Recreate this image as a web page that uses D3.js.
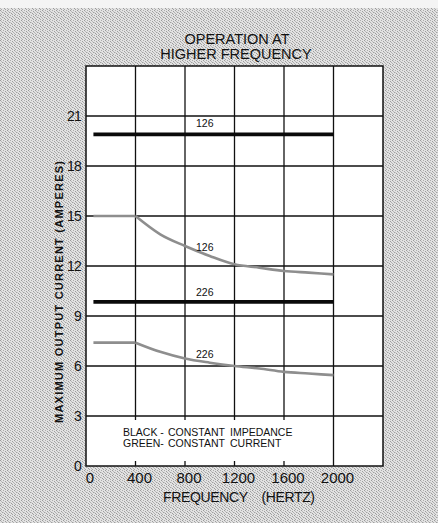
<!DOCTYPE html>
<html>
<head>
<meta charset="utf-8">
<script src="https://cdn.jsdelivr.net/npm/d3@7"></script>
<style>
  html, body { margin: 0; padding: 0; background: #fff; }
  svg { display: block; }
  text { font-family: "Liberation Sans", Arial, sans-serif; fill: #111; }
</style>
</head>
<body>
<svg id="chart" width="438" height="523"></svg>
<script>
// frequency points (Hz)
const freq = [60, 400, 600, 800, 1000, 1200, 1400, 1600, 1800, 2000];
// constant current curves (green)
const current126 = [15, 15, 13.9, 13.2, 12.6, 12.1, 11.9, 11.7, 11.6, 11.5];
const current226 = [7.4, 7.4, 6.85, 6.45, 6.2, 6.0, 5.85, 5.65, 5.55, 5.45];
// constant impedance lines (black)
const impFreq = [60, 2000];
const impedance126 = [19.9, 19.9];
const impedance226 = [9.85, 9.85];

const xTicks = [0, 400, 800, 1200, 1600, 2000];
const yTicks = [0, 3, 6, 9, 12, 15, 18, 21];

const svg = d3.select('#chart');
const W = 438, H = 523;
const plotLeft = 86, plotRight = 383, plotTop = 66, plotBottom = 466;

// halftone-ish paper background
const defs = svg.append('defs');
const pat = defs.append('pattern')
  .attr('id', 'halftone')
  .attr('width', 7).attr('height', 5)
  .attr('patternUnits', 'userSpaceOnUse');
pat.append('rect').attr('width', 7).attr('height', 5).attr('fill', '#e2e2e2');
const dots = [[0,0,'#999'],[3,0,'#aaa'],[5,1,'#9e9e9e'],[1,1,'#b8b8b8'],[2,2,'#a0a0a0'],
  [6,2,'#b0b0b0'],[4,3,'#999'],[0,3,'#b4b4b4'],[1,4,'#a6a6a6'],[5,4,'#a2a2a2'],[3,2,'#c4c4c4']];
pat.selectAll('rect.d').data(dots).enter().append('rect')
  .attr('x', d => d[0]).attr('y', d => d[1])
  .attr('width', 1).attr('height', 1).attr('fill', d => d[2]);

svg.append('rect').attr('width', W).attr('height', H).attr('fill', 'url(#halftone)');
svg.append('rect').attr('width', W).attr('height', 8).attr('fill', '#f4f4f4');

const x = d3.scaleLinear().domain([0, 2400]).range([plotLeft, plotRight]);
const y = d3.scaleLinear().domain([0, 24]).range([plotBottom, plotTop]);

// plot area
svg.append('rect')
  .attr('x', plotLeft).attr('y', plotTop)
  .attr('width', plotRight - plotLeft).attr('height', plotBottom - plotTop)
  .attr('fill', '#fff');

const grid = svg.append('g').attr('stroke', '#111').attr('stroke-width', 1.3);

// horizontal grid
grid.selectAll('line.h')
  .data(d3.range(3, 24, 3))
  .enter().append('line')
  .attr('x1', plotLeft).attr('x2', plotRight)
  .attr('y1', d => y(d)).attr('y2', d => y(d));

// vertical grid; the legend box between 0 and 3 only keeps short ticks
grid.selectAll('line.v')
  .data([400, 800, 1200, 1600])
  .enter().append('line')
  .attr('x1', d => x(d)).attr('x2', d => x(d))
  .attr('y1', plotTop).attr('y2', y(3) + 4);
grid.selectAll('line.vt')
  .data([400, 800, 1200, 1600])
  .enter().append('line')
  .attr('x1', d => x(d)).attr('x2', d => x(d))
  .attr('y1', plotBottom - 5).attr('y2', plotBottom);
grid.append('line')
  .attr('x1', x(2000)).attr('x2', x(2000))
  .attr('y1', plotTop).attr('y2', plotBottom);

// frame
svg.append('rect')
  .attr('x', plotLeft).attr('y', plotTop)
  .attr('width', plotRight - plotLeft).attr('height', plotBottom - plotTop)
  .attr('fill', 'none').attr('stroke', '#111').attr('stroke-width', 1.5);

// black constant impedance lines
const flat = d3.line().x(d => x(d[0])).y(d => y(d[1]));
[impedance126, impedance226].forEach(vals => {
  svg.append('path')
    .datum(d3.zip(impFreq, vals))
    .attr('d', flat)
    .attr('fill', 'none')
    .attr('stroke', '#0a0a0a')
    .attr('stroke-width', 3.6);
});

// green constant current curves: flat to 400 Hz, then falling
const curve = d3.line().x(d => x(d[0])).y(d => y(d[1])).curve(d3.curveMonotoneX);
[current126, current226].forEach(vals => {
  const pts = d3.zip(freq, vals);
  svg.append('path')
    .datum(pts.filter(p => p[0] <= 400))
    .attr('d', flat)
    .attr('fill', 'none').attr('stroke', '#8e8e8e').attr('stroke-width', 2.6);
  svg.append('path')
    .datum(pts.filter(p => p[0] >= 400))
    .attr('d', curve)
    .attr('fill', 'none').attr('stroke', '#8e8e8e').attr('stroke-width', 2.6);
});

// curve labels
const labels = [
  { t: '126', f: 1000, v: impedance126[0], dy: -7 },
  { t: '126', f: 1000, v: current126[4], dy: -5 },
  { t: '226', f: 1000, v: impedance226[0], dy: -6 },
  { t: '226', f: 1000, v: current226[4], dy: -5 }
];
svg.selectAll('text.lbl')
  .data(labels)
  .enter().append('text')
  .attr('x', d => x(d.f) - 5)
  .attr('y', d => y(d.v) + d.dy)
  .attr('text-anchor', 'middle')
  .style('font-size', '10.5px')
  .text(d => d.t);

// tick labels
svg.selectAll('text.yt')
  .data(yTicks)
  .enter().append('text')
  .attr('x', plotLeft - 5)
  .attr('y', d => y(d) + 5)
  .attr('text-anchor', 'end')
  .style('font-size', '14px')
  .style('letter-spacing', '-0.8px')
  .text(d => d);

svg.selectAll('text.xt')
  .data(xTicks)
  .enter().append('text')
  .attr('x', d => x(d) + 4)
  .attr('y', 483)
  .attr('text-anchor', 'middle')
  .style('font-size', '15px')
  .text(d => d);

// axis titles
svg.append('text')
  .attr('x', 163).attr('y', 502)
  .attr('textLength', 152)
  .style('font-size', '14px')
  .style('white-space', 'pre')
  .text('FREQUENCY    (HERTZ)');

svg.append('text')
  .attr('transform', 'translate(63,292) rotate(-90)')
  .attr('text-anchor', 'middle')
  .attr('textLength', 262)
  .style('font-size', '11px')
  .style('font-weight', 'bold')
  .text('MAXIMUM OUTPUT CURRENT (AMPERES)');

// title
svg.append('text')
  .attr('x', 237).attr('y', 44)
  .attr('text-anchor', 'middle')
  .style('font-size', '14.5px')
  .text('OPERATION AT');
svg.append('text')
  .attr('x', 236).attr('y', 59)
  .attr('text-anchor', 'middle')
  .style('font-size', '14.5px')
  .text('HIGHER FREQUENCY');

// legend note
const note = [
  ['BLACK - ', 'CONSTANT', 'IMPEDANCE'],
  ['GREEN- ', 'CONSTANT', 'CURRENT']
];
const noteX = [123, 168, 230];
note.forEach((row, i) => {
  row.forEach((w, j) => {
    svg.append('text')
      .attr('x', noteX[j]).attr('y', 436 + i * 11)
      .style('font-size', '10.5px')
      .text(w);
  });
});
</script>
</body>
</html>
